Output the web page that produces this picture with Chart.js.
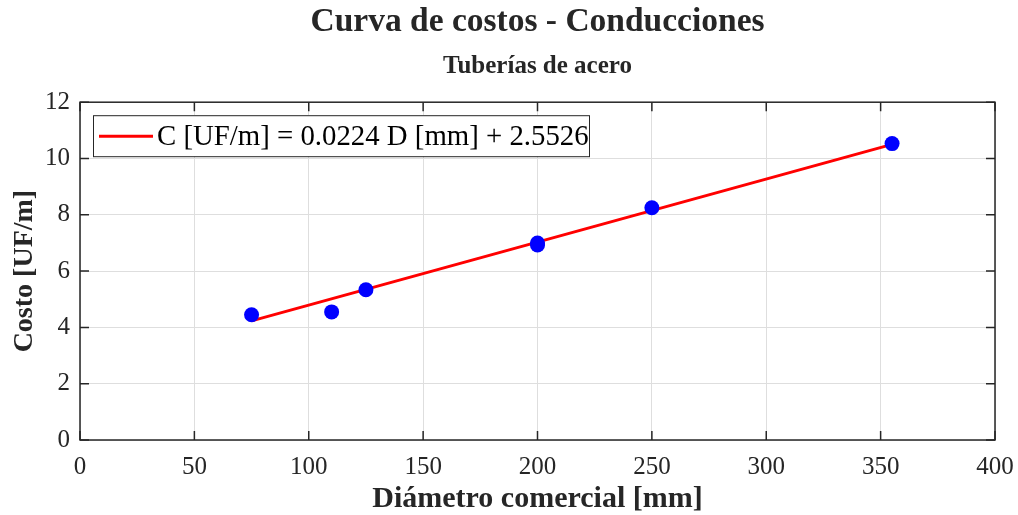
<!DOCTYPE html>
<html>
<head>
<meta charset="utf-8">
<script src="https://cdn.jsdelivr.net/npm/chart.js@4"></script>
<style>
  html, body { margin: 0; padding: 0; background: #fff; }
  #wrap { width: 1018px; height: 515px; }
</style>
</head>
<body>
<div id="wrap"><canvas id="c" width="1018" height="515"></canvas></div>
<script>
// ---- data ----
const diameters = [75, 110, 125, 200, 200, 250, 355];        // mm
const costs     = [4.45, 4.55, 5.34, 6.93, 7.00, 8.25, 10.53]; // UF/m
const fitX = [75, 355];
const fitY = [4.23, 10.50];
const xTicks = [0, 50, 100, 150, 200, 250, 300, 350, 400];
const yTicks = [0, 2, 4, 6, 8, 10, 12];
const titleText = 'Curva de costos - Conducciones';
const subtitleText = 'Tuberías de acero';
const xTitle = 'Diámetro comercial [mm]';
const yTitle = 'Costo [UF/m]';
const legendText = 'C [UF/m] = 0.0224 D [mm] + 2.5526';

const SERIF = '"Liberation Serif", "Times New Roman", serif';
const TXT = '#262626';

const boxPlugin = {
  id: 'box',
  beforeDatasetsDraw(chart) {
    const {ctx, chartArea: a, scales} = chart;
    ctx.save();
    ctx.strokeStyle = '#262626';
    ctx.lineWidth = 1.5;
    const L = 9;
    ctx.beginPath();
    xTicks.forEach(v => {
      const x = scales.x.getPixelForValue(v);
      ctx.moveTo(x, a.bottom); ctx.lineTo(x, a.bottom - L);
      ctx.moveTo(x, a.top); ctx.lineTo(x, a.top + L);
    });
    yTicks.forEach(v => {
      const y = scales.y.getPixelForValue(v);
      ctx.moveTo(a.left, y); ctx.lineTo(a.left + L, y);
      ctx.moveTo(a.right, y); ctx.lineTo(a.right - L, y);
    });
    ctx.stroke();
    ctx.strokeRect(a.left, a.top, a.right - a.left, a.bottom - a.top);
    ctx.restore();
  },
  afterDraw(chart) {
    const {ctx, chartArea: a} = chart;
    const ds = chart.data.datasets[1];
    ctx.save();
    const bx = a.left + 13, by = a.top + 13, bw = 496, bh = 41;
    ctx.fillStyle = '#fff';
    ctx.fillRect(bx, by, bw, bh);
    ctx.strokeStyle = '#262626';
    ctx.lineWidth = 1;
    ctx.strokeRect(bx + 0.5, by + 0.5, bw, bh);
    const my = by + bh / 2 + 0.5;
    ctx.strokeStyle = ds.borderColor;
    ctx.lineWidth = 3;
    ctx.beginPath();
    ctx.moveTo(bx + 6, my); ctx.lineTo(bx + 60, my);
    ctx.stroke();
    ctx.fillStyle = '#000';
    ctx.font = '28.8px ' + SERIF;
    ctx.textBaseline = 'middle';
    ctx.textAlign = 'left';
    ctx.fillText(ds.label, bx + 64, my + 1);
    ctx.restore();
  }
};

new Chart(document.getElementById('c'), {
  type: 'scatter',
  data: {
    datasets: [
      {
        label: 'Datos',
        data: diameters.map((d, i) => ({x: d, y: costs[i]})),
        backgroundColor: '#0000ff',
        borderColor: '#0000ff',
        borderWidth: 0,
        pointRadius: 7.5,
        pointHoverRadius: 7.5,
        showLine: false
      },
      {
        label: legendText,
        type: 'line',
        data: fitX.map((d, i) => ({x: d, y: fitY[i]})),
        borderColor: '#ff0000',
        backgroundColor: '#ff0000',
        borderWidth: 3,
        pointRadius: 0,
        fill: false,
        tension: 0
      }
    ]
  },
  plugins: [boxPlugin],
  options: {
    responsive: false,
    animation: false,
    events: [],
    layout: { padding: { left: 0, right: 23, top: 0, bottom: 0 } },
    plugins: {
      legend: { display: false },
      tooltip: { enabled: false },
      title: {
        display: true, text: titleText, color: TXT, fullSize: false,
        font: { family: SERIF, size: 33.5, weight: 'bold', lineHeight: 1.2 },
        padding: { top: 2, bottom: 2 }
      },
      subtitle: {
        display: true, text: subtitleText, color: TXT, fullSize: false,
        font: { family: SERIF, size: 25, weight: 'bold', lineHeight: 1.2 },
        padding: { top: 7, bottom: 21 }
      }
    },
    scales: {
      x: {
        type: 'linear', min: 0, max: 400,
        afterBuildTicks: s => { s.ticks = xTicks.map(v => ({value: v})); },
        afterFit: s => { s.height = 75; s.paddingLeft = 0; s.paddingRight = 0; },
        ticks: { color: TXT, padding: 12, maxRotation: 0,
                 font: { family: SERIF, size: 25 } },
        grid: { color: '#dedede', lineWidth: 1, drawTicks: false },
        border: { display: false },
        title: { display: true, text: xTitle, color: TXT,
                 font: { family: SERIF, size: 30, weight: 'bold', lineHeight: 1.05 },
                 padding: { top: 0, bottom: 0 } }
      },
      y: {
        type: 'linear', min: 0, max: 12,
        afterBuildTicks: s => { s.ticks = yTicks.map(v => ({value: v})); },
        afterFit: s => { s.width = 80; },
        ticks: { color: TXT, padding: 10,
                 font: { family: SERIF, size: 25 } },
        grid: { color: '#dedede', lineWidth: 1, drawTicks: false },
        border: { display: false },
        title: { display: true, text: yTitle, color: TXT,
                 font: { family: SERIF, size: 28, weight: 'bold', lineHeight: 1.2 },
                 padding: { top: 8, bottom: 0 } }
      }
    }
  }
});
</script>
</body>
</html>
